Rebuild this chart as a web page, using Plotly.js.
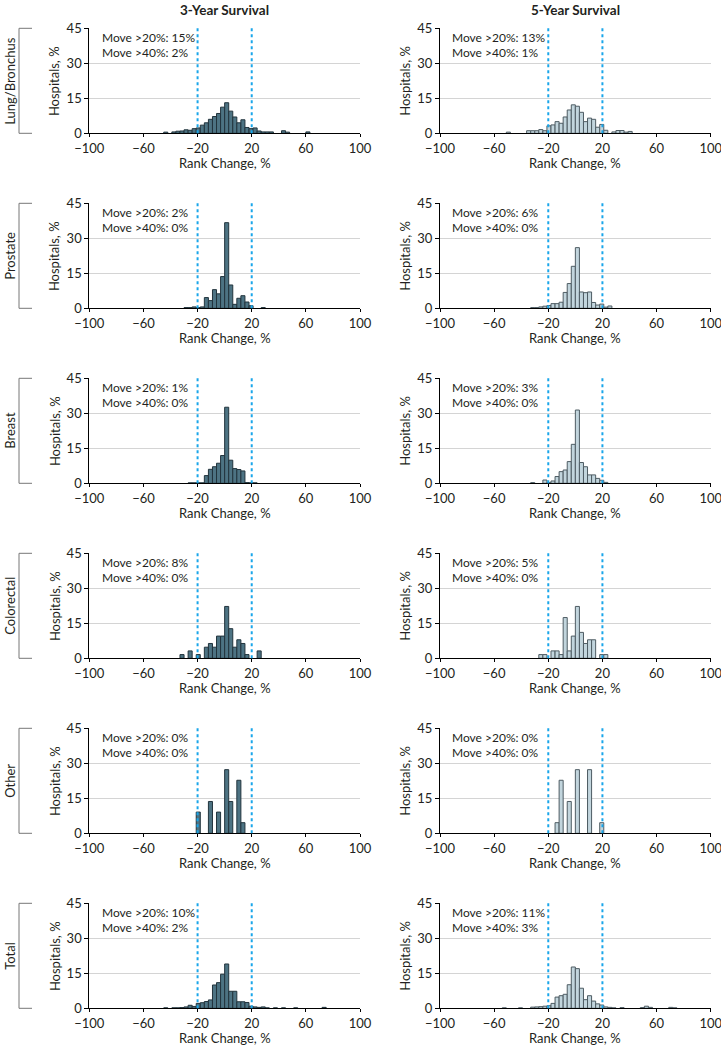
<!DOCTYPE html>
<html><head><meta charset="utf-8">
<script src="https://cdn.plot.ly/plotly-3.0.1.min.js"></script>
<style>html,body{margin:0;padding:0;background:#fff}#chart{width:721px;height:1050px}</style>
</head><body><div id="chart"></div>
<script>
// ---- Data: bin left edges (3-point bins of rank change, %) and share of hospitals (%) ----
const rowLabels = ['Lung/Bronchus', 'Prostate', 'Breast', 'Colorectal', 'Other', 'Total'];
const colTitles = ['3-Year Survival', '5-Year Survival'];
const xTickVals = [-100, -60, -20, 20, 60, 100];
const yTickVals = [0, 15, 30, 45];
const cutLines = [-20, 20];

const move20_3yr = ['15%', '2%', '1%', '8%', '0%', '10%'];
const move40_3yr = ['2%', '0%', '0%', '0%', '0%', '2%'];
const move20_5yr = ['13%', '6%', '3%', '5%', '0%', '11%'];
const move40_5yr = ['1%', '0%', '0%', '0%', '0%', '3%'];

const lung3_edges = [-45,-39,-36,-33,-30,-27,-24,-21,-18,-15,-12,-9,-6,-3,0,3,6,9,12,15,18,21,24,27,30,33,42,45,60];
const lung3_pct   = [0.5,0.6,0.9,1.0,1.5,1.3,2.0,2.3,3.5,4.5,6.0,7.2,8.5,11.2,13.1,9.5,7.0,4.5,5.8,2.5,2.0,2.3,1.0,0.6,0.6,0.6,1.1,0.5,0.6];
const lung5_edges = [-51,-36,-33,-30,-27,-24,-21,-18,-15,-12,-9,-6,-3,0,3,6,9,12,15,18,21,27,30,33,36,39];
const lung5_pct   = [0.5,1.1,1.1,1.1,1.6,1.1,3.2,3.6,5.0,4.3,7.0,10.0,12.2,11.6,9.0,5.0,6.5,6.0,2.6,3.8,1.3,0.6,1.2,1.2,0.5,0.8];

const prost3_edges = [-30,-27,-24,-21,-18,-15,-12,-9,-6,-3,0,3,6,9,12,15,18,27];
const prost3_pct   = [0.3,0.3,0.6,0.3,0.6,4.6,3.3,8.0,6.2,13.6,36.7,10.0,1.7,4.3,5.4,2.7,1.1,0.3];
const prost5_edges = [-33,-30,-27,-24,-21,-18,-15,-12,-9,-6,-3,0,3,6,9,12,15,18,21,24];
const prost5_pct   = [0.3,0.3,0.6,0.9,1.2,2.0,2.0,2.6,6.8,10.6,18.0,26.0,7.0,6.7,7.0,2.5,1.4,1.8,0.5,1.0];

const breast3_edges = [-27,-24,-21,-18,-15,-12,-9,-6,-3,0,3,6,9,12,15,18,21];
const breast3_pct   = [0.2,0.2,0.2,0.2,3.3,6.0,7.1,8.6,11.9,32.6,9.9,6.3,5.9,5.3,0.3,0.2,0.2];
const breast5_edges = [-33,-24,-21,-18,-15,-12,-9,-6,-3,0,3,6,9,12,15,18,21];
const breast5_pct   = [0.3,1.4,0.3,1.0,2.9,5.0,5.7,9.3,16.7,31.4,8.9,7.1,3.6,3.6,2.1,1.3,0.4];

const colo3_edges = [-33,-27,-21,-15,-12,-9,-6,-3,0,3,6,9,12,15,24];
const colo3_pct   = [1.59,3.17,1.59,4.76,6.35,4.76,9.52,9.52,22.22,12.70,4.76,7.94,6.35,1.59,3.17];
const colo5_edges = [-27,-24,-18,-15,-12,-9,-6,-3,0,3,6,9,12,18,21];
const colo5_pct   = [1.59,1.59,3.17,3.17,1.59,17.46,3.17,9.52,22.22,11.11,6.35,7.94,7.94,1.59,1.59];

const other3_edges = [-21,-12,-6,0,3,9,12];
const other3_pct   = [9.09,13.64,9.09,27.27,13.64,22.73,4.55];
const other5_edges = [-15,-12,-6,0,9,18];
const other5_pct   = [4.55,22.73,13.64,27.27,27.27,4.55];

const total3_edges = [-45,-39,-36,-33,-30,-27,-24,-21,-18,-15,-12,-9,-6,-3,0,3,6,9,12,15,18,21,24,27,30,36,42,51,72];
const total3_pct   = [0.2,0.2,0.2,0.3,0.6,1.3,0.8,2.1,2.4,2.9,3.6,10.0,11.0,14.6,19.0,7.3,7.3,2.8,2.8,2.5,0.9,0.6,0.4,0.6,0.2,0.2,0.2,0.2,0.4];
const total5_edges = [-54,-42,-33,-30,-27,-24,-21,-18,-15,-12,-9,-6,-3,0,3,6,9,12,15,18,21,24,27,33,48,51,54,69,72];
const total5_pct   = [0.2,0.2,0.5,0.6,0.7,0.9,1.1,2.1,4.8,5.4,6.0,10.1,17.7,17.0,8.6,3.7,5.4,3.1,1.9,1.4,0.6,0.4,0.2,0.3,0.3,0.9,0.4,0.4,0.2];

const binWidth = 3;

const panels = [
  [[lung3_edges, lung3_pct], [lung5_edges, lung5_pct]],
  [[prost3_edges, prost3_pct], [prost5_edges, prost5_pct]],
  [[breast3_edges, breast3_pct], [breast5_edges, breast5_pct]],
  [[colo3_edges, colo3_pct], [colo5_edges, colo5_pct]],
  [[other3_edges, other3_pct], [other5_edges, other5_pct]],
  [[total3_edges, total3_pct], [total5_edges, total5_pct]]
];
const moveTexts = [[move20_3yr, move40_3yr], [move20_5yr, move40_5yr]];

// ---- Layout / style ----
const W = 721, H = 1050;
const FONT = 'Lato, "Liberation Sans", sans-serif';
const TXT = '#231f20';
const colLeft = [89.3, 440], colWidth = 270.7;
const rowTop0 = 28.3, rowStep = 175, plotH = 105;
const fills = ['#4d7383', '#c2d5dd'];
const outlines = ['#22343d', '#4e5c63'];

const px = v => v / W;
const py = v => 1 - v / H;

const data = [];
const layout = {
  width: W, height: H, autosize: false,
  margin: {l: 0, r: 0, t: 0, b: 0},
  paper_bgcolor: '#fff', plot_bgcolor: '#fff',
  font: {family: FONT, size: 13, color: TXT},
  showlegend: false,
  annotations: [], shapes: []
};

for (let r = 0; r < 6; r++) {
  const top = rowTop0 + r * rowStep, bot = top + plotH;
  for (let c = 0; c < 2; c++) {
    const idx = r * 2 + c + 1;
    const sfx = idx === 1 ? '' : String(idx);
    const [edges, pct] = panels[r][c];
    data.push({
      type: 'bar',
      x: edges.map(e => e + binWidth / 2),
      y: pct,
      width: binWidth,
      marker: {color: fills[c], line: {color: outlines[c], width: 1}},
      xaxis: 'x' + sfx, yaxis: 'y' + sfx,
      hoverinfo: 'skip'
    });
    layout['xaxis' + sfx] = {
      domain: [px(colLeft[c]), px(colLeft[c] + colWidth)],
      anchor: 'y' + sfx,
      range: [-100, 100],
      tickmode: 'array', tickvals: xTickVals,
      ticks: 'outside', ticklen: 3, tickwidth: 1, tickcolor: '#000',
      showline: true, linecolor: '#000', linewidth: 1,
      showgrid: false, zeroline: false, fixedrange: true,
      ticklabeloverflow: 'allow',
      tickfont: {family: FONT, size: 13, color: TXT}
    };
    layout['yaxis' + sfx] = {
      domain: [py(bot), py(top)],
      anchor: 'x' + sfx,
      range: [0, 45],
      tickmode: 'array', tickvals: yTickVals,
      ticks: 'outside', ticklen: 4, tickwidth: 1, tickcolor: '#000',
      showline: true, linecolor: '#000', linewidth: 1,
      showgrid: true, gridcolor: '#d4d4d4', gridwidth: 1.5,
      zeroline: false, fixedrange: true,
      tickfont: {family: FONT, size: 13, color: TXT}
    };
    // cut-off lines at +/-20
    cutLines.forEach(v => layout.shapes.push({
      type: 'line', xref: 'x' + sfx, yref: 'y' + sfx + ' domain',
      x0: v, x1: v, y0: 0, y1: 1, layer: 'above',
      line: {color: '#1aa6ea', width: 2, dash: 'dot'}
    }));
    // Move texts
    const mv = moveTexts[c];
    layout.annotations.push({
      xref: 'x' + sfx + ' domain', yref: 'paper',
      x: (99.5 - 89.3) / colWidth, y: py(top + 9.5), xanchor: 'left', yanchor: 'middle',
      text: 'Move >20%: ' + mv[0][r], showarrow: false,
      font: {family: FONT, size: 12, color: TXT}
    });
    layout.annotations.push({
      xref: 'x' + sfx + ' domain', yref: 'paper',
      x: (99.5 - 89.3) / colWidth, y: py(top + 24.5), xanchor: 'left', yanchor: 'middle',
      text: 'Move >40%: ' + mv[1][r], showarrow: false,
      font: {family: FONT, size: 12, color: TXT}
    });
    // axis titles
    layout.annotations.push({
      xref: 'paper', yref: 'paper',
      x: px(colLeft[c] + colWidth / 2), y: py(bot + 29.5), xanchor: 'center', yanchor: 'middle',
      text: 'Rank Change, %', showarrow: false,
      font: {family: FONT, size: 13, color: TXT}
    });
    layout.annotations.push({
      xref: 'paper', yref: 'paper',
      x: px(colLeft[c] - 35), y: py((top + bot) / 2), xanchor: 'center', yanchor: 'middle',
      text: 'Hospitals, %', textangle: -90, showarrow: false,
      font: {family: FONT, size: 13, color: TXT}
    });
  }
  // row label + bracket
  layout.annotations.push({
    xref: 'paper', yref: 'paper',
    x: px(10), y: py((top + bot) / 2), xanchor: 'center', yanchor: 'middle',
    text: rowLabels[r], textangle: -90, showarrow: false,
    font: {family: FONT, size: 13, color: TXT}
  });
  layout.shapes.push({type: 'line', xref: 'paper', yref: 'paper',
    x0: px(19), x1: px(19), y0: py(top), y1: py(bot), line: {color: '#777', width: 1}});
  layout.shapes.push({type: 'line', xref: 'paper', yref: 'paper',
    x0: px(19), x1: px(32), y0: py(top), y1: py(top), line: {color: '#777', width: 1}});
  layout.shapes.push({type: 'line', xref: 'paper', yref: 'paper',
    x0: px(19), x1: px(32), y0: py(bot), y1: py(bot), line: {color: '#777', width: 1}});
}
// column titles
colTitles.forEach((t, c) => layout.annotations.push({
  xref: 'paper', yref: 'paper',
  x: px(colLeft[c] + colWidth / 2), y: 1, xanchor: 'center', yanchor: 'top',
  text: '<b>' + t + '</b>', showarrow: false,
  font: {family: FONT, size: 13.5, color: TXT}
}));

Plotly.newPlot('chart', data, layout, {staticPlot: true, displayModeBar: false});
</script>
</body></html>
